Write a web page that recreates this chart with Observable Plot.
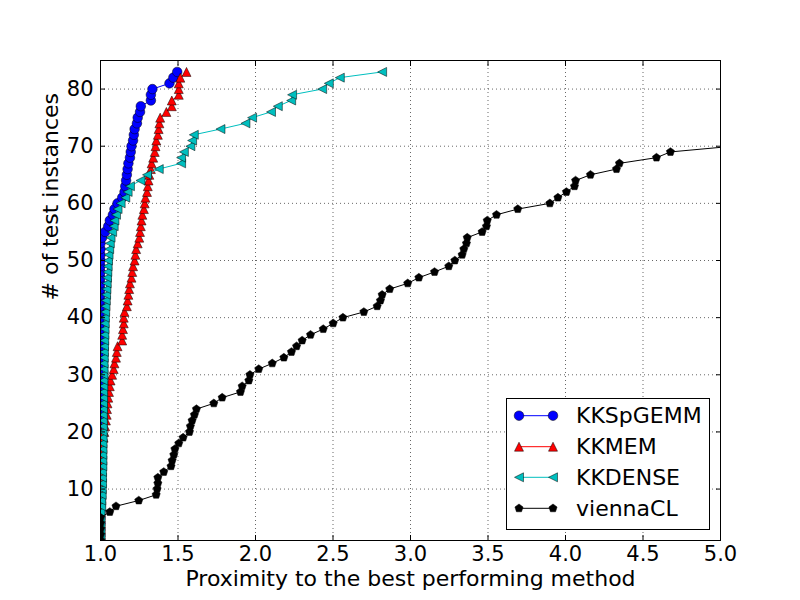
<!DOCTYPE html>
<html>
<head>
<meta charset="utf-8">
<script src="https://cdn.jsdelivr.net/npm/d3@7"></script>
<script src="https://cdn.jsdelivr.net/npm/@observablehq/plot@0.6"></script>
<style>
  html, body { margin: 0; padding: 0; background: #fff; }
  svg { display: block; }
</style>
</head>
<body>
<div id="chart"></div>
<script>
// ---- data (ratio to best method, sorted; y = instance count) ----
const seriesNames = ["KKSpGEMM", "KKMEM", "KKDENSE", "viennaCL"];
const xTicks = [1.0, 1.5, 2.0, 2.5, 3.0, 3.5, 4.0, 4.5, 5.0];
const yTicks = [10, 20, 30, 40, 50, 60, 70, 80];

const kkspgemm = [
  1.0, 1.0, 1.0, 1.0, 1.0, 1.0, 1.0, 1.0, 1.0, 1.0,
  1.0, 1.0, 1.0, 1.0, 1.0, 1.0, 1.0, 1.0, 1.0, 1.0,
  1.0, 1.0, 1.0, 1.0, 1.0, 1.0, 1.0, 1.0, 1.0, 1.0,
  1.0, 1.0, 1.0, 1.0, 1.0, 1.0, 1.0, 1.0, 1.0, 1.0,
  1.0, 1.0, 1.0, 1.0, 1.0, 1.0, 1.0, 1.0, 1.0, 1.0,
  1.0, 1.0, 1.0, 1.01, 1.03, 1.05, 1.06, 1.08, 1.09, 1.11,
  1.14, 1.155, 1.16, 1.165, 1.17, 1.175, 1.18, 1.19, 1.195, 1.2,
  1.21, 1.215, 1.22, 1.235, 1.24, 1.255, 1.26, 1.325, 1.325, 1.335,
  1.445, 1.47, 1.495
];

const kkmem = [
  1.0, 1.0, 1.0, 1.0, 1.0, 1.0, 1.0, 1.0, 1.0, 1.0,
  1.0, 1.0, 1.0, 1.0, 1.0, 1.0, 1.0, 1.01, 1.02, 1.025,
  1.03, 1.035, 1.04, 1.042, 1.045, 1.05, 1.055, 1.06, 1.065, 1.075,
  1.085, 1.09, 1.1, 1.105, 1.11, 1.14, 1.14, 1.145, 1.15, 1.15,
  1.155, 1.17, 1.175, 1.18, 1.185, 1.19, 1.2, 1.205, 1.21, 1.22,
  1.225, 1.23, 1.24, 1.25, 1.255, 1.26, 1.265, 1.27, 1.28, 1.285,
  1.29, 1.3, 1.305, 1.31, 1.315, 1.325, 1.33, 1.34, 1.35, 1.355,
  1.36, 1.37, 1.375, 1.38, 1.385, 1.425, 1.46, 1.46, 1.505, 1.505,
  1.505, 1.515, 1.555
];

const kkdense = [
  1.0, 1.0, 1.0, 1.0, 1.0, 1.0, 1.005, 1.005, 1.008, 1.008,
  1.01, 1.01, 1.01, 1.012, 1.012, 1.012, 1.013, 1.013, 1.014, 1.014,
  1.015, 1.015, 1.015, 1.016, 1.016, 1.017, 1.017, 1.018, 1.018, 1.019,
  1.02, 1.02, 1.021, 1.022, 1.023, 1.024, 1.025, 1.026, 1.027, 1.028,
  1.03, 1.032, 1.034, 1.036, 1.038, 1.04, 1.042, 1.044, 1.046, 1.048,
  1.052, 1.056, 1.06, 1.065, 1.075, 1.085, 1.09, 1.1, 1.11, 1.13,
  1.16, 1.175, 1.19, 1.258, 1.3, 1.376, 1.52, 1.52, 1.538, 1.58,
  1.591, 1.602, 1.774, 1.935, 1.978, 2.1, 2.144, 2.23, 2.236, 2.43,
  2.473, 2.544, 2.817
];

const viennacl = [
  1.0, 1.0, 1.0, 1.0, 1.0, 1.06, 1.1, 1.247, 1.359, 1.365,
  1.37, 1.37, 1.408, 1.455, 1.462, 1.473, 1.48, 1.505, 1.533, 1.574,
  1.58, 1.591, 1.606, 1.619, 1.731, 1.785, 1.903, 1.914, 1.957, 1.964,
  2.021, 2.108, 2.183, 2.232, 2.265, 2.301, 2.355, 2.437, 2.501, 2.564,
  2.699, 2.785, 2.806, 2.817, 2.866, 2.982, 3.054, 3.155, 3.247, 3.286,
  3.333, 3.344, 3.361, 3.366, 3.462, 3.49, 3.495, 3.555, 3.692, 3.899,
  3.951, 4.006, 4.058, 4.065, 4.161, 4.329, 4.348, 4.587, 4.677, 5.08
];

// ---- marker symbols ----
const triUp = {draw(ctx, size) { const r = Math.sqrt(size / Math.PI); ctx.moveTo(0, -r); ctx.lineTo(r, r); ctx.lineTo(-r, r); ctx.closePath(); }};
const triLeft = {draw(ctx, size) { const r = Math.sqrt(size / Math.PI); ctx.moveTo(-r, 0); ctx.lineTo(r, -r); ctx.lineTo(r, r); ctx.closePath(); }};
const pentagon = {draw(ctx, size) { const r = Math.sqrt(size / Math.PI); for (let k = 0; k < 5; k++) { const a = -Math.PI / 2 + k * 2 * Math.PI / 5; const px = r * Math.cos(a), py = r * Math.sin(a); if (k === 0) ctx.moveTo(px, py); else ctx.lineTo(px, py); } ctx.closePath(); }};

const styles = [
  {values: kkspgemm, color: "#0000ff", symbol: "circle", r: 4.8},
  {values: kkmem, color: "#ff0000", symbol: triUp, r: 4.5},
  {values: kkdense, color: "#00bfbf", symbol: triLeft, r: 4.5},
  {values: viennacl, color: "#000000", symbol: pentagon, r: 4.3}
];

const FONT = "DejaVu Sans, sans-serif";

const marks = [
  Plot.gridX(xTicks, {stroke: "black", strokeOpacity: 1, strokeWidth: 0.6, strokeDasharray: "1,3"}),
  Plot.gridY(yTicks, {stroke: "black", strokeOpacity: 1, strokeWidth: 0.6, strokeDasharray: "1,3"})
];
styles.forEach((s) => {
  const rows = s.values.map((v, i) => ({x: v, y: i + 1}));
  marks.push(Plot.line(rows, {x: "x", y: "y", stroke: s.color, strokeWidth: 1, clip: true}));
  marks.push(Plot.dot(rows, {x: "x", y: "y", symbol: s.symbol, r: s.r, fill: s.color, stroke: "black", strokeWidth: 0.5, clip: true}));
});
marks.push(
  Plot.frame({stroke: "black", strokeWidth: 1}),
  Plot.axisX(xTicks, {anchor: "bottom", tickSize: -5, tickPadding: 11, tickFormat: (d) => d.toFixed(1), label: null, fontSize: 21}),
  Plot.axisX(xTicks, {anchor: "top", tickSize: -5, tickFormat: () => "", label: null}),
  Plot.axisY(yTicks, {anchor: "left", tickSize: -5, tickPadding: 12, label: null, fontSize: 21}),
  Plot.axisY(yTicks, {anchor: "right", tickSize: -5, tickFormat: () => "", label: null}),
  Plot.text(["Proximity to the best performing method"], {frameAnchor: "bottom", dy: 45, fontSize: 22, fill: "black"}),
  Plot.text(["# of test instances"], {frameAnchor: "left", dx: -50, rotate: -90, fontSize: 22, fill: "black"})
);

const chart = Plot.plot({
  width: 800,
  height: 600,
  marginLeft: 100,
  marginRight: 80,
  marginTop: 60,
  marginBottom: 60,
  style: {fontFamily: FONT, color: "black", background: "white"},
  x: {domain: [1, 5], ticks: xTicks},
  y: {domain: [1, 85], ticks: yTicks},
  marks
});

// ---- legend ----
const svg = d3.select(chart);
const lg = svg.append("g").attr("class", "legend").attr("text-anchor", "start");
lg.append("rect").attr("x", 506.5).attr("y", 398.5).attr("width", 203).attr("height", 131)
  .attr("fill", "white").attr("stroke", "black").attr("stroke-width", 1);
const rowsY = [415.7, 446.7, 477.3, 508.3];
styles.forEach((s, i) => {
  const yy = rowsY[i];
  lg.append("line").attr("x1", 519).attr("x2", 553).attr("y1", yy).attr("y2", yy)
    .attr("stroke", s.color).attr("stroke-width", 1);
  const sym = typeof s.symbol === "string" ? d3.symbolCircle : s.symbol;
  const p = d3.symbol(sym, s.r * s.r * Math.PI)();
  [519, 553].forEach((xx) => {
    lg.append("path").attr("d", p).attr("transform", `translate(${xx},${yy})`)
      .attr("fill", s.color).attr("stroke", "black").attr("stroke-width", 0.5);
  });
  lg.append("text").attr("x", 576).attr("y", yy).attr("dy", "0.35em")
    .attr("text-anchor", "start")
    .attr("font-family", FONT).attr("font-size", 22).attr("fill", "black").text(seriesNames[i]);
});

document.getElementById("chart").appendChild(chart);
</script>
</body>
</html>
